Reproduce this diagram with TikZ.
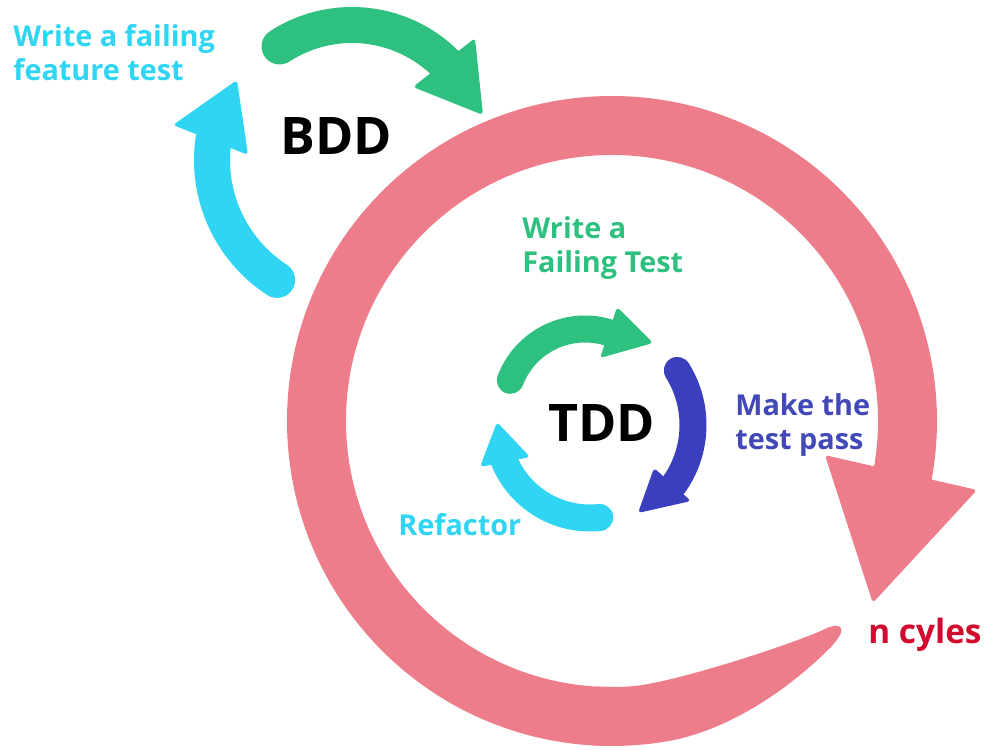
\documentclass[tikz,border=0pt]{standalone}
\usepackage{fontspec}
\setmainfont{Open Sans}
\usetikzlibrary{calc}
\definecolor{Ring_Pink}{HTML}{EE7D8B}
\definecolor{Step_Green}{HTML}{2EC07F}
\definecolor{Step_Cyan}{HTML}{2FD5F2}
\definecolor{Step_Blue}{HTML}{3B3EBD}
\definecolor{Label_Blue}{HTML}{4248B6}
\definecolor{Cycle_Red}{HTML}{D20A2E}

\begin{document}
\begin{tikzpicture}[x=0.02cm, y=-0.02cm,
    band/.style={line width=0.72cm, line cap=round},
    smallband/.style={line width=0.54cm, line cap=round},
    head/.style={rounded corners=2pt},
    steplabel/.style={anchor=north west, inner sep=0pt, align=left,
        font=\bfseries\fontsize{16.4}{19.6}\selectfont},
    bigname/.style={inner sep=0pt, font=\bfseries\fontsize{29.5}{32}\selectfont}]
    \useasboundingbox (0,0) rectangle (988,750);

    % Outer loop: n cyles
    \coordinate (ring) at (612,421);
    \draw[line width=1.18cm, Ring_Pink] ([shift={(90:295.5)}]ring)
        arc[start angle=90, end angle=372, radius=295.5];
    \begin{scope}[shift={(ring)}]
        % tapered tail of the loop
        \fill[Ring_Pink] (93.5:325) arc[start angle=93.5, end angle=80, radius=325]
            .. controls (105,311.5) and (165,280) .. (219,226)
            .. controls (226,218) and (231,211) .. (229,207)
            .. controls (227,203) and (218,205) .. (211,209)
            .. controls (175,225) and (60,262.2) .. (85.7:266)
            arc[start angle=85.7, end angle=93.5, radius=266] -- cycle;
        % head
        \fill[Ring_Pink, head] (9.1:215.7) -- (10.7:371.5) -- (34.9:318) -- cycle;
    \end{scope}

    % BDD cycle
    \coordinate (bddgreen) at (352,158);
    \coordinate (bddcyan) at (355,160);
    \draw[band, Step_Green] ([shift={(237:133)}]bddgreen)
        arc[start angle=237, end angle=315, radius=133];
    \fill[Step_Green, head] (475,38) -- (483,115) -- (413,87) -- cycle;
    \draw[band, Step_Cyan] ([shift={(123:143)}]bddcyan)
        arc[start angle=123, end angle=189, radius=143];
    \fill[Step_Cyan, head] (173,125) -- (237,80) -- (248,155) -- cycle;
    \node[bigname] (bddname) at (336,136) {BDD};
    \node[steplabel, Step_Cyan] (featuretest) at (13,24) {Write a failing\\feature test};

    % TDD cycle
    \coordinate (tddgreen) at (585,409);
    \coordinate (tdd) at (590,425);
    \draw[smallband, Step_Green] ([shift={(201:80)}]tddgreen)
        arc[start angle=201, end angle=288, radius=80];
    \fill[Step_Green, head] (617,307) -- (653,343) -- (600,358) -- cycle;
    \draw[smallband, Step_Blue] ([shift={(-32:103)}]tdd)
        arc[start angle=-32, end angle=36, radius=103];
    \fill[Step_Blue, head] (654,468) -- (691,501) -- (638,513) -- cycle;
    \draw[smallband, Step_Cyan] ([shift={(84:93)}]tdd)
        arc[start angle=84, end angle=157, radius=93];
    \fill[Step_Cyan, head] (497,422) -- (480,467) -- (530,457) -- cycle;
    \node[bigname] (tddname) at (602,423) {TDD};

    % step labels
    \node[steplabel, Step_Green] (failingtest) at (522,216) {Write a\\Failing Test};
    \node[steplabel, Label_Blue] (testpass) at (735,393) {Make the\\test pass};
    \node[steplabel, Step_Cyan] (refactor) at (398,513) {Refactor};
    \node[steplabel, Cycle_Red, font=\bfseries\fontsize{19}{22}\selectfont] (cycles)
        at (868,618) {n cyles};
\end{tikzpicture}
\end{document}
